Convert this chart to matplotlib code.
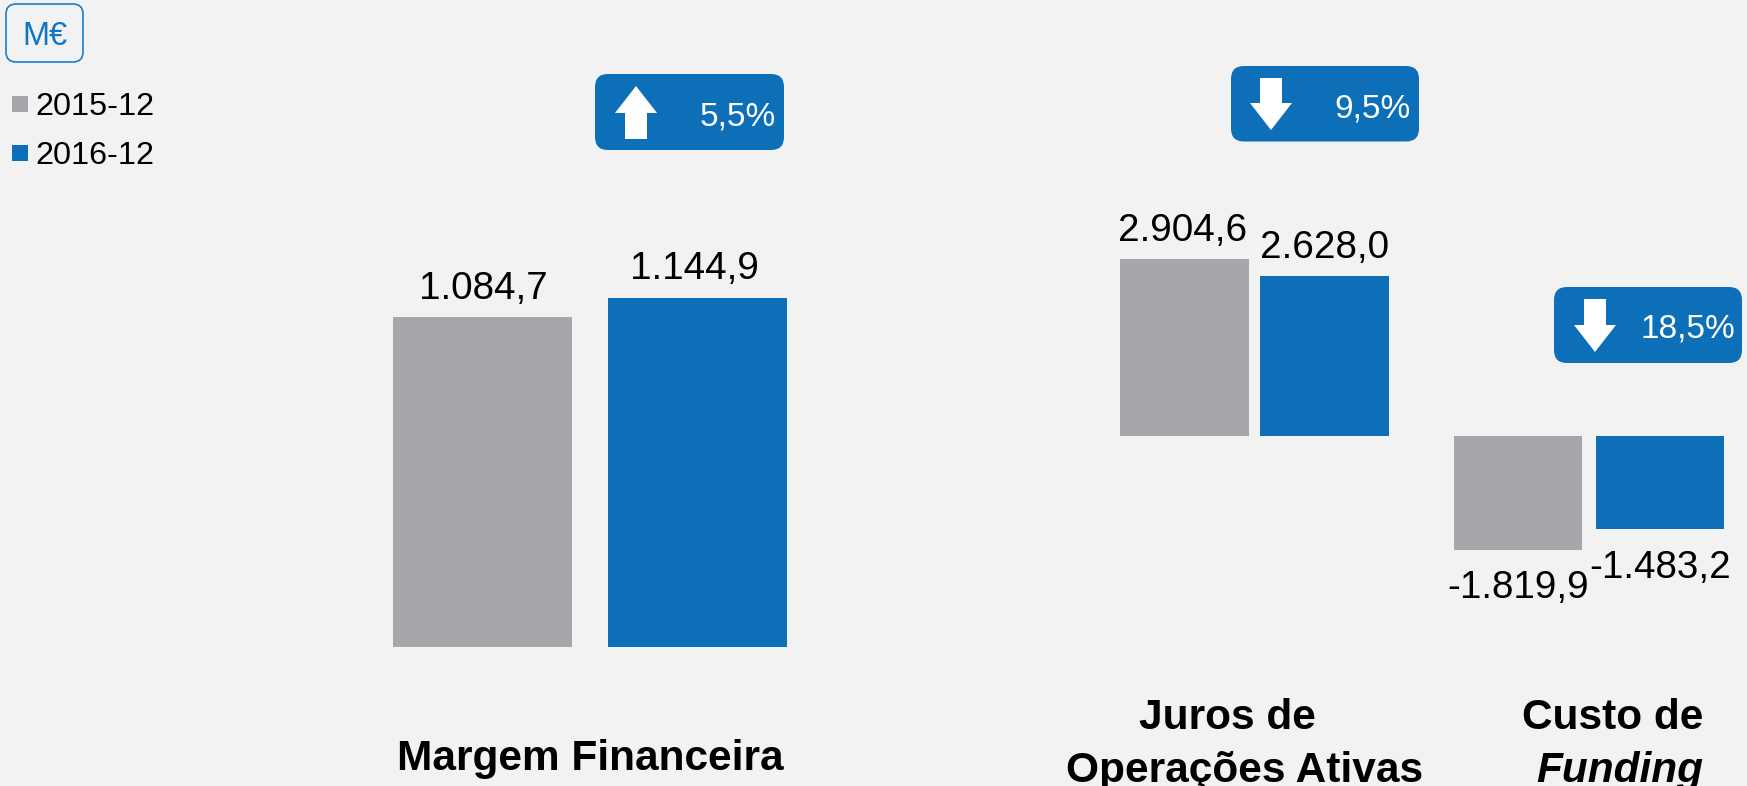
import matplotlib
matplotlib.use("Agg")
import matplotlib.pyplot as plt
from matplotlib.patches import FancyBboxPatch, Polygon, Rectangle

plt.rcParams['font.family'] = ['Liberation Sans', 'DejaVu Sans']

series = ['2015-12', '2016-12']
margem = [1084.7, 1144.9]
juros = [2904.6, 2628.0]
custo = [-1819.9, -1483.2]
margem_labels = ['1.084,7', '1.144,9']
juros_labels = ['2.904,6', '2.628,0']
custo_labels = ['-1.819,9', '-1.483,2']
variations = ['5,5%', '9,5%', '18,5%']
unit = 'M€'

GRAY, BLUE, BG = '#A6A7AA', '#0C6FB8', '#F2F2F2'
W, H = 1747, 786
fig = plt.figure(figsize=(W / 100, H / 100), dpi=100, facecolor=BG)


def bars(values, labels, x0, x1, y_top, y_bot, vmin, vmax, width, offs):
    ax = fig.add_axes([x0 / W, 1 - y_bot / H, (x1 - x0) / W, (y_bot - y_top) / H])
    ax.set_xlim(-width / 2, 1 + width / 2)
    ax.set_ylim(vmin, vmax)
    ax.axis('off')
    rects = ax.bar([0, 1], values, width=width, color=[GRAY, BLUE], linewidth=0)
    for r, v, lab, (dx, dy) in zip(rects, values, labels, offs):
        ax.annotate(lab, (r.get_x() + r.get_width() / 2, v), xytext=(dx, dy),
                    textcoords='offset pixels', ha='center', va='baseline',
                    fontsize=27.8, color='black', annotation_clip=False)
    return ax


bars(margem, margem_labels, 393, 787, 298.5, 647, 0, 1144.9, 0.835,
     [(1, 18), (-3, 19)])
bars(juros, juros_labels, 1120, 1389, 259, 436, 0, 2904.6, 0.917,
     [(-2, 18), (0, 18)])
bars(custo, custo_labels, 1454, 1724, 436, 550, -1819.9, 0, 0.90,
     [(0, -48), (0, -49)])

ov = fig.add_axes([0, 0, 1, 1], facecolor='none')
ov.set_xlim(0, W)
ov.set_ylim(H, 0)
ov.axis('off')

# unit box
ov.add_patch(FancyBboxPatch((6 + 10, 4 + 10), 77 - 20, 58 - 20, boxstyle='round,pad=10,rounding_size=10',
                            fc=BG, ec='#1B7DCB', lw=1.2))
ov.text(44.5, 45, unit, color='#0F75C5', fontsize=23.5, ha='center', va='baseline')

# legend
for y, c, s, base in [(96, GRAY, series[0], 115), (145, BLUE, series[1], 164)]:
    ov.add_patch(Rectangle((12, y), 16, 16, fc=c, lw=0))
    ov.text(35.5, base, s, fontsize=23.3, color='black', ha='left', va='baseline')


def badge(x0, x1, y0, y1, txt, txt_r, base, arrow):
    r = 13
    ov.add_patch(FancyBboxPatch((x0 + r, y0 + r), x1 - x0 - 2 * r, y1 - y0 - 2 * r,
                                boxstyle=f'round,pad={r},rounding_size={r}', fc=BLUE, lw=0))
    ov.add_patch(Polygon(arrow, closed=True, fc='white', lw=0))
    ov.text(txt_r, base, txt, color='white', fontsize=24, ha='right', va='baseline')


def down(cx, top, neck, tip, hw=21, sw=11):
    return [(cx - sw, top), (cx + sw, top), (cx + sw, neck), (cx + hw, neck), (cx, tip),
            (cx - hw, neck), (cx - sw, neck)]


badge(595, 784, 74, 150, variations[0], 776, 126,
      [(636, 86), (657, 113), (647, 113), (647, 139), (625, 139), (625, 113), (615, 113)])
badge(1231, 1419, 66, 141.5, variations[1], 1411, 117, down(1271, 78, 103, 130))
badge(1554, 1742, 287, 363, variations[2], 1735, 338, down(1595, 299, 325, 352))

# category labels
bold = dict(fontsize=30.5, fontweight='bold', color='black', va='baseline')
ov.text(590, 770, 'Margem Financeira', ha='center', **bold)
ov.text(1227, 729, 'Juros de', ha='center', **bold)
ov.text(1245, 782, 'Operações Ativas', ha='center', **bold)
ov.text(1703, 729, 'Custo de', ha='right', **bold)
ov.text(1703, 782, 'Funding', ha='right', style='italic', **bold)

fig.savefig('out.png', dpi=100, facecolor=BG)
